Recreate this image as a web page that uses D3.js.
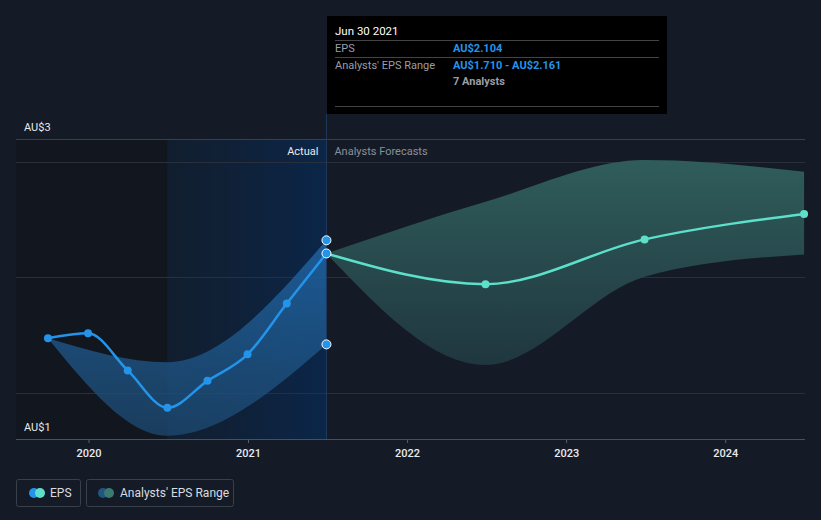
<!DOCTYPE html>
<html><head><meta charset="utf-8">
<script src="https://cdn.jsdelivr.net/npm/d3@7"></script>
<style>
html,body{margin:0;padding:0;background:#151b26;}
svg{display:block;font-family:Roboto,"Noto Sans",sans-serif;}
</style></head><body>
<svg id="c" width="821" height="520"></svg>
<script>
// ---- data ----
const actualDates = ["2019-09-30","2019-12-31","2020-03-31","2020-06-30","2020-09-30","2020-12-31","2021-03-31","2021-06-30"];
const actualEPS   = [1.737, 1.758, 1.597, 1.435, 1.552, 1.667, 1.887, 2.104];
const actualRangeDates = ["2019-09-30","2020-06-30","2021-06-30"];
const actualRangeLow  = [1.737, 1.314, 1.710];
const actualRangeHigh = [1.737, 1.633, 2.161];
const forecastDates = ["2021-06-30","2022-06-30","2023-06-30","2024-06-30"];
const forecastEPS   = [2.104, 1.971, 2.165, 2.275];
const forecastLow   = [2.104, 1.621, 2.003, 2.100];
const forecastHigh  = [2.104, 2.328, 2.509, 2.458];
const xTickYears = [2020, 2021, 2022, 2023, 2024];
const yLabels = ["AU$3", "AU$1"];
const yGrid = [1.5, 2.0, 2.5];

(function(){
const P = d3.timeParse("%Y-%m-%d");
const svg = d3.select("#c");
const pL = 16, pR = 805, pT = 139, pB = 439;

const x = d3.scaleTime().domain([new Date(2020,0,1), new Date(2021,0,1)]).range([88.5, 248]);
const y = d3.scaleLinear().domain([1.30, 2.60]).range([pB, pT]);

const defs = svg.append("defs");
const gBlue = defs.append("linearGradient").attr("id","gBlue").attr("x1",0).attr("x2",1).attr("y1",0).attr("y2",0);
gBlue.append("stop").attr("offset","0%").attr("stop-color","#0f2035").attr("stop-opacity",0.6);
gBlue.append("stop").attr("offset","100%").attr("stop-color","#0b2649").attr("stop-opacity",1);
const gBand = defs.append("linearGradient").attr("id","gBand").attr("x1",0).attr("x2",0).attr("y1",0).attr("y2",1);
gBand.append("stop").attr("offset","0%").attr("stop-color","#1f64a4").attr("stop-opacity",0.85);
gBand.append("stop").attr("offset","100%").attr("stop-color","#1d4a72").attr("stop-opacity",0.75);
const gFc = defs.append("linearGradient").attr("id","gFc").attr("x1",0).attr("x2",0).attr("y1",0).attr("y2",1);
gFc.append("stop").attr("offset","0%").attr("stop-color","#31605e").attr("stop-opacity",0.95);
gFc.append("stop").attr("offset","100%").attr("stop-color","#203840").attr("stop-opacity",0.95);

const nowX = x(P("2021-06-30"));
const yearAgoX = x(P("2020-06-30"));

// past shading
svg.append("rect").attr("x",pL).attr("y",pT).attr("width",yearAgoX-pL).attr("height",pB-pT).attr("fill","#12161e");
svg.append("rect").attr("x",yearAgoX).attr("y",pT).attr("width",nowX-yearAgoX).attr("height",pB-pT).attr("fill","url(#gBlue)");

// grid
svg.append("line").attr("x1",pL).attr("x2",pR).attr("y1",pT+0.5).attr("y2",pT+0.5).attr("stroke","#3a404b").attr("stroke-width",1);
svg.selectAll(".grid").data(yGrid).enter().append("line")
  .attr("x1",pL).attr("x2",pR).attr("y1",d=>Math.round(y(d))+0.5).attr("y2",d=>Math.round(y(d))+0.5)
  .attr("stroke","#2a303b").attr("stroke-width",1);

// x axis
const xAxis = d3.axisBottom(x).tickValues(xTickYears.map(v=>new Date(v,0,1))).tickFormat(d3.timeFormat("%Y")).tickSize(4).tickPadding(6);
const ax = svg.append("g").attr("transform",`translate(0,${pB})`).call(xAxis);
ax.select(".domain").remove();
ax.selectAll(".tick line").attr("stroke","#5a606b");
ax.selectAll(".tick text").attr("fill","#e8eaee").attr("font-size",11).attr("font-weight",500).attr("font-family","Roboto");
svg.append("line").attr("x1",pL).attr("x2",pR).attr("y1",pB+0.5).attr("y2",pB+0.5).attr("stroke","#4a505b");

// y labels
svg.append("text").attr("x",24).attr("y",pT-8).attr("fill","#e8eaee").attr("font-size",11).text(yLabels[0]);
svg.append("text").attr("x",24).attr("y",pB-8).attr("fill","#e8eaee").attr("font-size",11).text(yLabels[1]);

// bands
const curve = d3.curveMonotoneX;
const aRange = actualRangeDates.map((d,i)=>({d:P(d),lo:actualRangeLow[i],hi:actualRangeHigh[i]}));
svg.append("path").datum(aRange).attr("fill","url(#gBand)")
  .attr("d", d3.area().curve(curve).x(d=>x(d.d)).y0(d=>y(d.lo)).y1(d=>y(d.hi)));
const fRange = forecastDates.map((d,i)=>({d:P(d),lo:forecastLow[i],hi:forecastHigh[i]}));
svg.append("path").datum(fRange).attr("fill","url(#gFc)")
  .attr("d", d3.area().curve(curve).x(d=>x(d.d)).y0(d=>y(d.lo)).y1(d=>y(d.hi)));

// now line
svg.append("line").attr("x1",nowX).attr("x2",nowX).attr("y1",114).attr("y2",pB).attr("stroke","#1f3a5c").attr("stroke-width",1);

// labels
svg.append("text").attr("x",nowX-8).attr("y",155).attr("text-anchor","end").attr("fill","#e8eaee").attr("font-size",11).text("Actual");
svg.append("text").attr("x",nowX+8).attr("y",155).attr("fill","#8a9099").attr("font-size",11).text("Analysts Forecasts");

// lines
const aData = actualDates.map((d,i)=>({d:P(d),v:actualEPS[i]}));
const fData = forecastDates.map((d,i)=>({d:P(d),v:forecastEPS[i]}));
const line = d3.line().curve(curve).x(d=>x(d.d)).y(d=>y(d.v));
svg.append("path").datum(fData).attr("fill","none").attr("stroke","#5ce0c9").attr("stroke-width",2.5).attr("d",line);
svg.append("path").datum(aData).attr("fill","none").attr("stroke","#2394ea").attr("stroke-width",2.5).attr("d",line);

svg.selectAll(".fp").data(fData.slice(1)).enter().append("circle")
  .attr("cx",d=>x(d.d)).attr("cy",d=>y(d.v)).attr("r",4).attr("fill","#5ce0c9");
svg.selectAll(".ap").data(aData.slice(0,-1)).enter().append("circle")
  .attr("cx",d=>x(d.d)).attr("cy",d=>y(d.v)).attr("r",4).attr("fill","#2394ea");
const last = aRange[aRange.length-1];
[last.hi, aData[aData.length-1].v, last.lo].forEach(v=>{
  svg.append("circle").attr("cx",nowX).attr("cy",y(v)).attr("r",4.5).attr("fill","#2394ea").attr("stroke","#ffffff").attr("stroke-width",1);
});

// tooltip
const tt = svg.append("g").attr("transform","translate(327,16)");
tt.append("rect").attr("width",340).attr("height",98).attr("fill","#000");
tt.append("text").attr("x",8).attr("y",19).attr("fill","#ffffff").attr("font-size",11.5).text("Jun 30 2021");
[24,41,90].forEach(yy=>tt.append("line").attr("x1",8).attr("x2",332).attr("y1",yy+0.5).attr("y2",yy+0.5).attr("stroke","#444"));
tt.append("text").attr("x",8).attr("y",36).attr("fill","#9a9ea6").attr("font-size",11).text("EPS");
tt.append("text").attr("x",126).attr("y",36).attr("fill","#2394ea").attr("font-size",11).attr("font-weight",700).text("AU$" + actualEPS[actualEPS.length-1].toFixed(3));
tt.append("text").attr("x",8).attr("y",53).attr("fill","#9a9ea6").attr("font-size",11).text("Analysts' EPS Range");
tt.append("text").attr("x",126).attr("y",53).attr("fill","#2394ea").attr("font-size",11).attr("font-weight",700).text("AU$" + last.lo.toFixed(3) + " - AU$" + last.hi.toFixed(3));
tt.append("text").attr("x",126).attr("y",69).attr("fill","#9a9ea6").attr("font-size",11).attr("font-weight",700).text("7 Analysts");

// legend
const lg = svg.append("g");
lg.append("rect").attr("x",16.5).attr("y",479.5).attr("width",64).attr("height",27).attr("rx",2).attr("fill","none").attr("stroke","#3a404b");
lg.append("circle").attr("cx",34).attr("cy",493).attr("r",5).attr("fill","#2394ea");
lg.append("circle").attr("cx",40).attr("cy",493).attr("r",5).attr("fill","#5ce0c9");
lg.append("text").attr("x",50).attr("y",497).attr("fill","#d8dbe0").attr("font-size",12).text("EPS");
lg.append("rect").attr("x",86.5).attr("y",479.5).attr("width",147).attr("height",27).attr("rx",2).attr("fill","none").attr("stroke","#3a404b");
lg.append("circle").attr("cx",103).attr("cy",493).attr("r",5).attr("fill","#235583");
lg.append("circle").attr("cx",109).attr("cy",493).attr("r",5).attr("fill","#3a7a70");
lg.append("text").attr("x",120).attr("y",497).attr("fill","#d8dbe0").attr("font-size",12).text("Analysts' EPS Range");
})();
</script>
</body></html>
